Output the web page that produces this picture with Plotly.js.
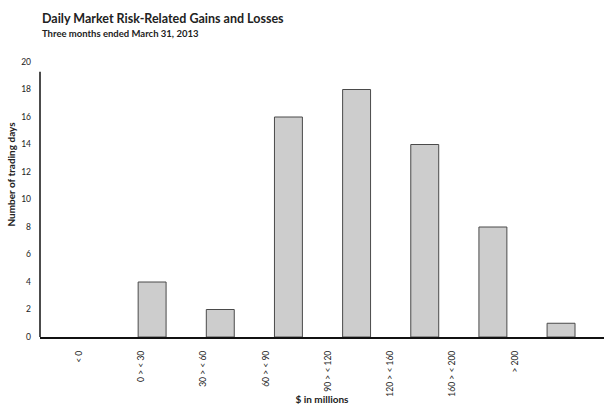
<!DOCTYPE html>
<html>
<head>
<meta charset="utf-8">
<script src="https://cdn.plot.ly/plotly-3.0.1.min.js"></script>
<style>html,body{margin:0;padding:0;background:#fff;}#chart{width:604px;height:409px;}</style>
</head>
<body>
<div id="chart"></div>
<script>
var categories = ["< 0", "0 > < 30", "30 > < 60", "60 > < 90", "90 > < 120", "120 > < 160", "160 > < 200", "> 200"];
var tradingDays = [0, 4, 2, 16, 18, 14, 8, 1];
var yTicks = [0, 2, 4, 6, 8, 10, 12, 14, 16, 18, 20];

var idx = categories.map(function (c, i) { return i; });
var FONT = "Lato, 'Open Sans', sans-serif";

var bars = {
  type: "bar",
  x: idx,
  y: tradingDays,
  width: 0.41,
  marker: { color: "#cdcdcd", line: { color: "#4a4a4a", width: tradingDays.map(function (v) { return v > 0 ? 1 : 0; }) } },
  hoverinfo: "skip",
  showlegend: false
};
// invisible copy on a second x-axis that carries the category labels
var labelsTrace = {
  type: "bar",
  x: idx,
  y: tradingDays,
  xaxis: "x2",
  opacity: 0,
  hoverinfo: "skip",
  showlegend: false
};

var layout = {
  width: 604, height: 409,
  margin: { l: 40, r: 0, t: 62, b: 72, pad: 0 },
  paper_bgcolor: "#fff", plot_bgcolor: "#fff",
  font: { family: FONT, color: "#222" },
  showlegend: false,
  bargap: 0,
  xaxis: {
    range: [-0.645, 7.63],
    showticklabels: false, ticks: "", showgrid: false, zeroline: false,
    showline: true, linecolor: "#111", linewidth: 1.5,
    fixedrange: true,
    title: { text: "$ in millions", font: { size: 10, family: FONT, color: "#222", weight: "bold" }, standoff: 58 }
  },
  xaxis2: {
    overlaying: "x",
    side: "bottom",
    range: [-0.626, 8.43],
    tickmode: "array", tickvals: idx, ticktext: categories,
    tickangle: -90, ticks: "", ticklabelstandoff: 11,
    tickfont: { size: 8.5, family: FONT, color: "#222" },
    showgrid: false, zeroline: false, showline: false,
    fixedrange: true
  },
  yaxis: {
    range: [0, 20],
    tickmode: "array", tickvals: yTicks,
    ticks: "", showgrid: false, zeroline: false, showline: false,
    ticklabelstandoff: 8,
    tickfont: { size: 8.5, family: FONT, color: "#222" },
    fixedrange: true
  },
  shapes: [
    { type: "line", xref: "paper", yref: "y", x0: 0, x1: 0, y0: 0, y1: 19.3,
      line: { color: "#111", width: 1.5 } }
  ],
  annotations: [
    { text: "<b>Daily Market Risk-Related Gains and Losses</b>", xref: "paper", yref: "paper",
      x: 0, y: 1.16, xanchor: "left", yanchor: "middle", showarrow: false,
      font: { size: 12.5, family: FONT, color: "#222" } },
    { text: "<b>Three months ended March 31, 2013</b>", xref: "paper", yref: "paper",
      x: 0, y: 1.102, xanchor: "left", yanchor: "middle", showarrow: false,
      font: { size: 9.5, family: FONT, color: "#222" } },
    { text: "<b>Number of trading days</b>", xref: "paper", yref: "paper",
      x: -0.052, y: 0.593, xanchor: "center", yanchor: "middle", textangle: -90, showarrow: false,
      font: { size: 10, family: FONT, color: "#222" } }
  ]
};

Plotly.newPlot("chart", [bars, labelsTrace], layout, { displayModeBar: false, staticPlot: true });
</script>
</body>
</html>
